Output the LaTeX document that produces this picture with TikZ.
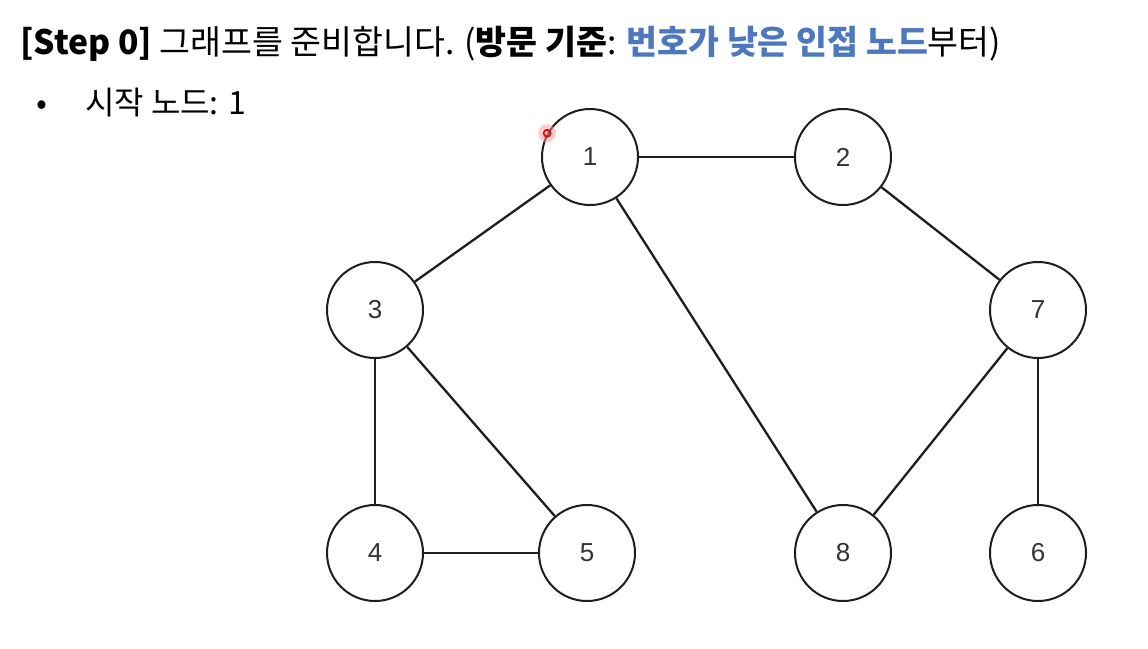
\documentclass[tikz,border=0pt]{standalone}
\usepackage{fontspec}
\setmainfont{Noto Sans CJK KR}
\newfontfamily\numfont{Liberation Sans}
\definecolor{accentblue}{HTML}{4E78BE}
\definecolor{edgecol}{HTML}{1E1E1E}
\begin{document}
\begin{tikzpicture}[x=1pt,y=-1pt,
  gnode/.style={circle,draw=edgecol,line width=2pt,minimum size=96pt,inner sep=0pt,font=\numfont\fontsize{26}{26}\selectfont,text=black!80},
  gedge/.style={draw=edgecol,line width=2.3pt}]
\useasboundingbox[fill=white] (0,0) rectangle (1148,648);
\node[anchor=base west,inner sep=0pt,font=\fontsize{33.6}{38}\selectfont] (title) at (20,54)
  {\textbf{[Step 0]} 그래프를 준비합니다. (\textbf{방문 기준}: \textcolor{accentblue}{\textbf{번호가 낮은 인접 노드}}부터)};
\node[anchor=base west,inner sep=0pt,font=\fontsize{32}{36}\selectfont] (bullet) at (36,114)
  {•\hspace{38pt}시작 노드: 1};
\node[gnode] (n1) at (590,157) {1};
\node[gnode] (n2) at (843,157) {2};
\node[gnode] (n3) at (375,310) {3};
\node[gnode] (n7) at (1038,310) {7};
\node[gnode] (n4) at (375,553) {4};
\node[gnode] (n5) at (587,553) {5};
\node[gnode] (n8) at (843,553) {8};
\node[gnode] (n6) at (1038,553) {6};
\draw[gedge] (n1) -- (n2);
\draw[gedge] (n1) -- (n3);
\draw[gedge] (n1) -- (n8);
\draw[gedge] (n2) -- (n7);
\draw[gedge] (n3) -- (n4);
\draw[gedge] (n3) -- (n5);
\draw[gedge] (n4) -- (n5);
\draw[gedge] (n7) -- (n8);
\draw[gedge] (n7) -- (n6);
\coordinate (cursor) at (n1.151);
\fill[red!40,opacity=0.5] (cursor) circle (9pt);
\draw[red!85!black,line width=1.6pt] (cursor) circle (3.5pt);
\end{tikzpicture}
\end{document}
